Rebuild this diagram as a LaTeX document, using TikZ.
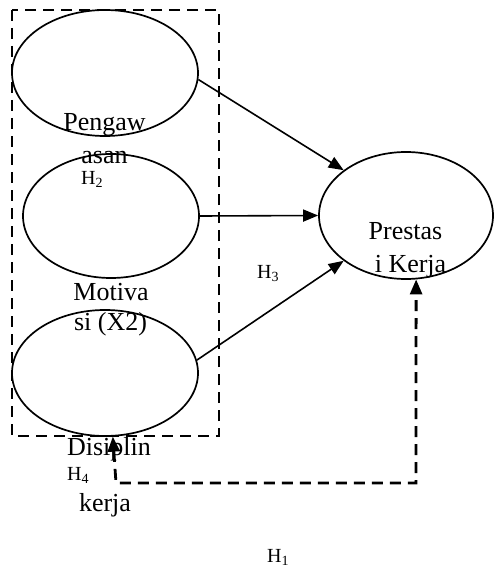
\documentclass[tikz,border=0pt]{standalone}
\usepackage{fontspec}
\setmainfont{Liberation Serif}
\usetikzlibrary{shapes.geometric,arrows.meta}
\begin{document}
\begin{tikzpicture}[x=1pt,y=-1pt,
  oval/.style={draw,ellipse,line width=1.7pt,inner sep=0pt},
  conn/.style={line width=1.6pt,-{Triangle[length=15pt,width=12pt]}},
  dashline/.style={line width=2.8pt,dash pattern=on 11pt off 7pt},
  lbl/.style={anchor=base,inner sep=0pt,font=\fontsize{26}{30}\selectfont},
  hyp/.style={anchor=base west,inner sep=0pt,font=\fontsize{20}{24}\selectfont}]
\useasboundingbox (0,0) rectangle (493,567);
% dashed frame
\coordinate (f1) at (12,10);
\coordinate (f2) at (219,436);
\draw[dashline] (f1) rectangle (f2);
% ellipses
\node[oval,minimum width=186pt,minimum height=126pt] (e1) at (105,73) {};
\node[oval,minimum width=176pt,minimum height=124pt] (e2) at (111,216) {};
\node[oval,minimum width=186pt,minimum height=126pt] (e3) at (105,373) {};
\node[oval,minimum width=174pt,minimum height=127pt] (e4) at (406,215.5) {};
% arrows
\draw[conn] (e1.-4) -- (e4.144);
\draw[conn] (e2.east) -- (e4.west);
\draw[conn] (e3.8.5) -- (e4.216);
% dashed feedback path
\coordinate (c1) at (116,483);
\coordinate (c2) at (416,483);
\draw[dashline,{Triangle[length=15pt,width=12pt]}-{Triangle[length=15pt,width=12pt]}] (e3.-83) -- (c1) -- (c2) -- (e4.-81);
% texts
\node[lbl] (t1) at (104.5,130) {Pengaw};
\node[lbl] (t2) at (104.5,163) {asan};
\node[hyp] (h2) at (81,184) {H\textsubscript{2}};
\node[lbl] (t3) at (111,300) {Motiva};
\node[lbl] (t4) at (110.5,330) {si (X2)};
\node[lbl] (t5) at (109,455) {Disiplin};
\node[hyp] (h4) at (67,480) {H\textsubscript{4}};
\node[lbl] (t6) at (105,511) {kerja};
\node[lbl] (t7) at (405.5,239) {Prestas};
\node[lbl] (t8) at (410.5,272) {i Kerja};
\node[hyp] (h3) at (257,278) {H\textsubscript{3}};
\node[hyp] (h1) at (267,562) {H\textsubscript{1}};
\end{tikzpicture}
\end{document}
